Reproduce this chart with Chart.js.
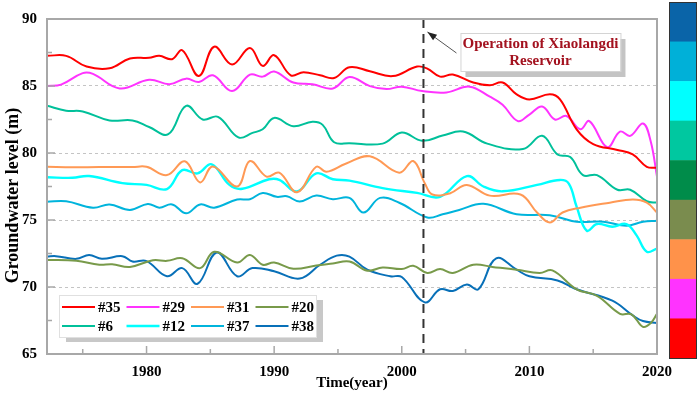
<!DOCTYPE html>
<html>
<head>
<meta charset="utf-8">
<script src="https://cdn.jsdelivr.net/npm/chart.js@4.4.0/dist/chart.umd.min.js"></script>
<style>
  html, body { margin: 0; padding: 0; background: #fff; }
  #wrap { width: 699px; height: 394px; }
</style>
</head>
<body>
<div id="wrap"><canvas id="gwChart" width="699" height="394"></canvas></div>
<script>
// === DATOS: nivel freático por pozo (m) ===
const years35 = [1972.2,1973.7,1975.3,1977.1,1978.7,1980.2,1981,1982,1982.8,1984.1,1985.3,1986.7,1988.1,1989.1,1990,1991.3,1992.3,1993.6,1994.7,1995.9,1997.5,1999.3,2001.2,2002,2003,2004,2005.6,2006.9,2007.9,2009,2010,2011.6,2012.4,2013.7,2015,2016.9,2018.1,2019.2,2020];
const level35 = [87.25,87.25,86.45,86.32,87.05,87.1,87.25,87.0,87.67,85.74,87.93,86.6,87.84,86.5,87.3,85.8,86.03,85.8,85.6,86.4,86.1,85.74,86.45,86.3,85.7,85.86,85.26,85.06,85.26,84.38,84.0,84.38,84.0,81.77,80.67,80.23,79.89,78.97,78.9];

const years29 = [1972.2,1973.3,1975,1975.8,1977.9,1980.2,1981.8,1983.1,1984.1,1985.2,1986.7,1988.1,1989.1,1990,1991.5,1993,1994.6,1995.9,1997.5,1998.8,2000,2001.6,2003.5,2005.3,2006.9,2007.9,2009.1,2010,2011,2012,2012.9,2014,2014.7,2016.1,2017.1,2017.9,2018.9,2019.5,2020];
const level29 = [85.0,85.1,85.96,85.9,84.82,85.47,85.13,85.55,85.3,85.8,84.62,85.85,85.7,86.08,85.26,85.13,84.82,85.67,84.99,84.77,84.95,84.62,84.52,84.95,84.2,83.6,82.38,82.87,83.47,82.5,82.76,81.77,82.38,80.43,81.6,81.28,82.2,80.9,78.24];

const years31 = [1972.2,1974.2,1976.3,1978.9,1980,1981.6,1983,1984.2,1985.2,1987.1,1988.1,1989.4,1990.4,1991.8,1993.3,1994.1,1995.6,1997.5,1999.8,2000.9,2001.8,2002.4,2003.8,2005.1,2006.9,2009.3,2010.6,2011.6,2012.6,2014,2016.3,2018.1,2019.2,2020];
const level31 = [78.97,78.93,78.95,78.95,78.97,78.35,79.38,77.8,79.0,77.5,79.4,78.24,78.53,77.07,78.97,78.6,79.2,79.75,78.53,79.4,77.75,76.9,77.0,77.62,76.82,76.9,75.56,74.82,75.56,75.92,76.29,76.53,76.3,75.56];

const years20 = [1972.2,1974.5,1976.3,1977.3,1978.7,1980.5,1981.6,1982.8,1984.2,1985.3,1987.1,1988.1,1989.1,1990,1991.5,1993.3,1994.6,1995.9,1997.3,1998.5,2000,2000.9,2002,2003,2004,2005.6,2007.1,2009,2010.8,2011.8,2013.7,2015.3,2017.1,2018,2018.9,2019.5,2020];
const level20 = [72.02,71.95,71.66,71.7,71.5,72.0,71.95,72.14,71.41,72.63,71.83,72.39,71.66,71.83,71.36,71.6,71.75,71.9,71.22,71.46,71.34,71.58,71.05,71.34,71.05,71.66,71.5,71.29,71.05,71.24,69.83,69.34,68.0,67.96,67.03,67.3,68.0];

const years6 = [1972.2,1973.7,1975,1977.1,1978.9,1980.2,1981.7,1983.1,1984.4,1985.6,1987.2,1988.3,1989.1,1990,1991.5,1993,1993.8,1994.7,1995.9,1998.5,2000,2001.6,2003.2,2004.8,2006.7,2009.5,2011,2012.2,2013.2,2014.2,2015.3,2016.9,2017.9,2019.2,2020];
const level6 = [83.52,83.16,83.1,82.43,82.43,81.94,81.4,83.52,82.5,82.7,81.16,81.5,81.77,82.62,82.0,82.33,82.1,80.8,80.73,80.7,81.53,80.91,81.3,81.6,80.7,80.3,81.28,79.89,79.7,78.35,78.35,77.26,77.26,76.4,76.3];

const years12 = [1972.2,1974.2,1975.5,1978.1,1980,1981.6,1982.8,1984,1985.1,1986.5,1987.5,1989.6,1990.4,1991.8,1993.3,1994.6,1995.9,1998.5,2001.2,2003,2005.1,2006.4,2007.9,2010.6,2012.4,2013.1,2013.7,2014.5,2015.3,2016.5,2017.6,2018.4,2019.2,2020];
const level12 = [78.19,78.15,78.28,77.75,77.62,77.31,78.72,78.48,79.16,77.62,77.33,78.04,78.0,77.14,78.48,78.04,77.94,77.38,77.02,76.73,78.28,77.5,77.14,77.62,77.99,77.7,76.0,74.2,74.7,74.5,74.7,73.85,72.63,72.87];

const years37 = [1972.2,1973.7,1975.8,1977.1,1978.7,1980.1,1981,1982,1983.1,1984.2,1985.3,1987.1,1988.1,1989.1,1990.2,1991,1992,1993.3,1994.6,1995.9,1997,1998.3,1999.8,2002,2003.2,2004.5,2006.4,2009,2011.6,2013.7,2015.8,2017.6,2018.9,2020];
const level37 = [76.36,76.4,75.92,76.16,75.75,76.2,75.92,76.16,75.5,76.16,75.92,76.53,76.55,77.02,76.73,76.77,76.38,76.82,76.55,76.65,75.56,76.65,76.29,75.19,75.43,75.75,76.21,75.43,75.36,74.87,74.87,74.58,74.87,74.95];

const years38 = [1972.2,1972.9,1974.5,1975.5,1976.5,1978.1,1978.9,1980,1981.6,1982.8,1984,1985.5,1987.1,1988.3,1990,1992,1993.6,1994.9,1995.9,1997.3,1999.1,2000,2001.8,2003,2004,2005.1,2006,2007.4,2009,2010,2012.2,2013.7,2016.5,2018.1,2018.9,2020];
const level38 = [72.27,72.3,72.1,72.39,72.1,72.3,71.9,71.93,70.8,71.41,70.24,72.58,70.8,71.41,71.17,70.63,71.66,72.34,72.27,71.29,70.8,70.75,68.85,69.83,69.7,70.19,69.83,72.14,71.29,70.8,70.49,69.83,68.98,67.88,67.46,67.32];

const wells = ['#35', '#29', '#31', '#20', '#6', '#12', '#37', '#38'];
const wellColors = ['#ff0000', '#ff33ff', '#ff9955', '#789a4a', '#00c09a', '#00ffff', '#00b4dc', '#0870b8'];
const wellYears = [years35, years29, years31, years20, years6, years12, years37, years38];
const wellLevels = [level35, level29, level31, level20, level6, level12, level37, level38];

const yTicks = [65, 70, 75, 80, 85, 90];
const xTicks = [1980, 1990, 2000, 2010, 2020];
const reservoirYear = 2001.7;
const barColors = ['#0a64a8', '#00b0d8', '#00ffff', '#00c8a0', '#008c4a', '#7a8c4e', '#ff924a', '#ff33ff', '#ff0000'];

const SERIF = "'Liberation Serif', 'Times New Roman', serif";

const datasets = wells.map((name, i) => ({
    label: name,
    data: wellYears[i].map((yr, k) => ({ x: yr, y: wellLevels[i][k] })),
    borderColor: wellColors[i],
    backgroundColor: wellColors[i],
    borderWidth: name === '#12' ? 2.4 : 2,
    pointRadius: 0,
    tension: 0.4,
    fill: false
}));

// === Marco, ticks hacia dentro, línea de la presa, leyenda y barra de color ===
const decorPlugin = {
    id: 'decor',
    afterDatasetsDraw(chart) {
        const { ctx, chartArea: a, scales: { x, y } } = chart;
        ctx.save();

        // línea vertical: operación de Xiaolangdi
        const rx = x.getPixelForValue(reservoirYear);
        ctx.strokeStyle = '#333';
        ctx.lineWidth = 2;
        ctx.setLineDash([9, 6]);
        ctx.beginPath(); ctx.moveTo(rx, a.top); ctx.lineTo(rx, a.bottom); ctx.stroke();
        ctx.setLineDash([]);

        // marco
        ctx.strokeStyle = '#a8a8a8';
        ctx.lineWidth = 2;
        ctx.strokeRect(a.left, a.top, a.right - a.left, a.bottom - a.top);

        // ticks interiores
        ctx.lineWidth = 1.5;
        ctx.beginPath();
        for (let v = 65; v <= 90; v += 2.5) {
            const py = y.getPixelForValue(v);
            const len = v % 5 === 0 ? 8 : 5;
            ctx.moveTo(a.left, py); ctx.lineTo(a.left + len, py);
        }
        for (let v = 1975; v <= 2020; v += 5) {
            const px = x.getPixelForValue(v);
            const len = v % 10 === 0 ? 8 : 5;
            ctx.moveTo(px, a.bottom); ctx.lineTo(px, a.bottom - len);
        }
        ctx.stroke();

        // título del eje Y
        ctx.fillStyle = '#000';
        ctx.font = `bold 18px ${SERIF}`;
        ctx.textAlign = 'center';
        ctx.textBaseline = 'middle';
        ctx.translate(13, (a.top + a.bottom) / 2 + 9);
        ctx.rotate(-Math.PI / 2);
        ctx.fillText('Groundwater level (m)', 0, 0);
        ctx.setTransform(1, 0, 0, 1, 0, 0);

        // anotación
        const bx = rx + 37, by = a.top + 14, bw = 160, bh = 38;
        ctx.fillStyle = '#c4c4c4';
        ctx.fillRect(bx + 5, by + 6, bw, bh);
        ctx.fillStyle = '#fff';
        ctx.fillRect(bx, by, bw, bh);
        ctx.strokeStyle = '#d4d4d4';
        ctx.lineWidth = 1;
        ctx.strokeRect(bx + 0.5, by + 0.5, bw, bh);
        ctx.fillStyle = '#a3121f';
        ctx.font = `bold 15px ${SERIF}`;
        ctx.fillText('Operation of Xiaolangdi', bx + bw / 2, by + 11);
        ctx.fillText('Reservoir', bx + bw / 2, by + 28);

        // flecha
        const ax0 = bx - 4, ay0 = by + 20, ax1 = rx + 4, ay1 = a.top + 13;
        ctx.strokeStyle = '#555';
        ctx.fillStyle = '#222';
        ctx.lineWidth = 1;
        ctx.beginPath(); ctx.moveTo(ax0, ay0); ctx.lineTo(ax1, ay1); ctx.stroke();
        const ang = Math.atan2(ay1 - ay0, ax1 - ax0);
        ctx.beginPath();
        ctx.moveTo(ax1, ay1);
        ctx.lineTo(ax1 - 10 * Math.cos(ang - 0.35), ay1 - 10 * Math.sin(ang - 0.35));
        ctx.lineTo(ax1 - 10 * Math.cos(ang + 0.35), ay1 - 10 * Math.sin(ang + 0.35));
        ctx.closePath(); ctx.fill();

        // leyenda
        const lx = a.left + 12, ly = a.bottom - 59, lw = 257, lh = 42;
        ctx.fillStyle = '#c8c8c8';
        ctx.fillRect(lx + 7, ly + 5, lw, lh);
        ctx.fillStyle = '#fff';
        ctx.fillRect(lx, ly, lw, lh);
        ctx.strokeStyle = '#e0e0e0';
        ctx.strokeRect(lx + 0.5, ly + 0.5, lw, lh);
        ctx.textAlign = 'left';
        ctx.font = `bold 15px ${SERIF}`;
        chart.data.datasets.forEach((ds, i) => {
            const col = i % 4, row = Math.floor(i / 4);
            const ix = lx + 3 + col * 64.5, iy = ly + 12 + row * 19;
            ctx.strokeStyle = ds.borderColor;
            ctx.lineWidth = ds.borderWidth;
            ctx.beginPath(); ctx.moveTo(ix, iy); ctx.lineTo(ix + 33, iy); ctx.stroke();
            ctx.fillStyle = '#000';
            ctx.fillText(ds.label, ix + 36, iy + 1);
        });

        // barra de color
        const cx = a.right + 12, cw = 27, ctop = 2, cbot = a.bottom + 4;
        const seg = (cbot - ctop) / barColors.length;
        barColors.forEach((c, i) => {
            ctx.fillStyle = c;
            ctx.fillRect(cx, ctop + i * seg, cw, seg + 0.5);
        });
        ctx.strokeStyle = '#333';
        ctx.lineWidth = 1;
        ctx.strokeRect(cx + 0.5, ctop + 0.5, cw, cbot - ctop);

        ctx.restore();
    }
};

new Chart(document.getElementById('gwChart'), {
    type: 'line',
    data: { datasets },
    options: {
        responsive: false,
        animation: false,
        devicePixelRatio: 1,
        layout: { padding: { top: 12, right: 42, left: 0, bottom: 0 } },
        plugins: { legend: { display: false }, tooltip: { enabled: false } },
        scales: {
            x: {
                type: 'linear',
                min: 1972.2,
                max: 2020,
                afterBuildTicks: (s) => { s.ticks = xTicks.map(v => ({ value: v })); },
                afterFit: (s) => { s.height = 40; },
                grid: { display: false, drawTicks: false },
                border: { display: false },
                ticks: {
                    color: '#000',
                    padding: 9,
                    maxRotation: 0,
                    font: { family: SERIF, size: 15, weight: 'bold' },
                    callback: (v) => String(v)
                },
                title: {
                    display: true,
                    text: 'Time(year)',
                    color: '#000',
                    padding: { top: 0, bottom: 2 },
                    font: { family: SERIF, size: 15, weight: 'bold' }
                }
            },
            y: {
                min: 65,
                max: 90,
                afterBuildTicks: (s) => { s.ticks = yTicks.map(v => ({ value: v })); },
                afterFit: (s) => { s.width = 47; },
                grid: {
                    drawTicks: false,
                    color: (c) => (c.tick && (c.tick.value === 65 || c.tick.value === 90)) ? 'rgba(0,0,0,0)' : '#c4c4c4',
                    lineWidth: 1
                },
                border: { display: false, dash: [3, 3] },
                ticks: {
                    color: '#000',
                    padding: 10,
                    font: { family: SERIF, size: 15, weight: 'bold' }
                },
                title: { display: false }
            }
        }
    },
    plugins: [decorPlugin]
});
</script>
</body>
</html>
